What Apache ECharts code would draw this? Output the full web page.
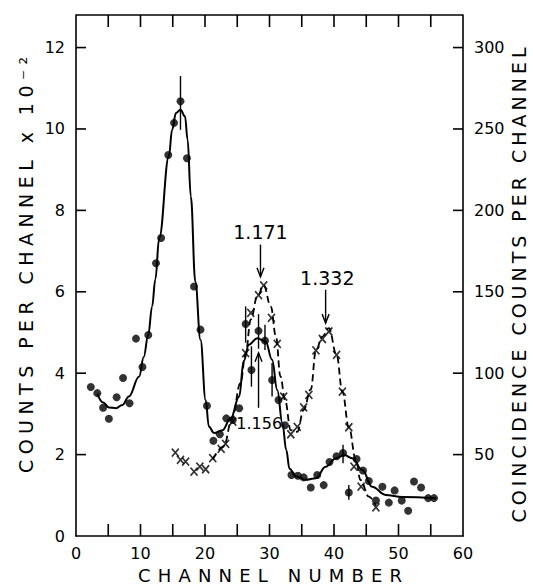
<!DOCTYPE html>
<html><head><meta charset="utf-8">
<script src="https://cdn.jsdelivr.net/npm/echarts@6/dist/echarts.min.js"></script>
<style>html,body{margin:0;padding:0;background:#fff}#c{width:533px;height:587px}</style>
</head><body><div id="c"></div>
<script>
// ---- data ----
const dotChannels = [2.3,3.3,4.2,5.1,6.3,7.3,8.3,9.3,10.3,11.2,12.4,13.2,14.3,15.2,16.2,17.2,18.3,19.3,20.3,21.3,22.3,23.3,24.3,25.3,26.3,27.2,28.3,29.3,30.4,31.4,32.4,33.4,34.4,35.3,36.4,37.4,38.4,39.3,40.4,41.4,42.3,43.5,44.5,45.4,46.5,47.5,48.5,49.4,50.5,51.5,52.4,53.5,54.6,55.5];
const dotCounts   = [3.66,3.51,3.15,2.88,3.41,3.88,3.26,4.85,4.15,4.94,6.70,7.32,9.36,10.15,10.68,9.28,6.13,5.07,3.20,2.34,2.50,2.89,2.85,3.14,5.21,4.08,5.04,4.80,3.83,3.34,2.72,1.50,1.48,1.44,1.19,1.50,1.25,1.82,1.96,2.04,1.07,1.89,1.61,1.35,0.87,1.21,0.82,1.12,0.87,0.62,1.34,1.19,0.93,0.93];

const crossChannels = [15.4,16.2,17.0,18.3,19.2,20.1,21.2,22.5,23.2,24.3,26.3,27.1,28.3,29.1,30.3,31.2,32.2,33.3,34.3,35.3,36.1,37.2,38.2,39.2,40.4,41.3,42.3,43.1,44.2,46.5];
const crossCounts   = [51.2,46.7,45.7,39.5,42.6,41.0,47.8,53.5,56.6,70.3,112.3,137,148,154,134,118,85.6,62.5,67,79,86.7,114,121,125.6,111.3,88.7,66.8,42.6,30.3,17.6];

const fitChannels = [3.3,4.2,5.1,6.2,7.2,8.2,9.8,10.5,11.2,11.8,12.3,12.9,14.4,14.9,15.5,16.2,16.9,17.3,17.8,18.5,19.3,20.1,20.6,21.4,22.7,24.0,25.3,26.0,26.8,28.1,29.4,30.4,31.2,32.0,32.6,33.1,34.1,35.6,37.2,38.7,40.3,41.6,42.8,44.4,45.9,48.0,50.6,55.8];
const fitCounts   = [3.50,3.28,3.16,3.14,3.22,3.43,3.92,4.40,4.94,5.64,6.30,7.32,9.33,9.98,10.39,10.47,10.31,9.74,8.34,6.25,4.82,3.34,2.69,2.53,2.60,2.90,3.43,4.30,4.70,4.86,4.78,4.33,3.59,2.77,2.11,1.65,1.46,1.38,1.42,1.70,1.91,1.99,1.91,1.62,1.21,1.01,0.96,0.93];

const dashChannels = [21.2,22.9,24.2,25.5,26.3,27.1,28.1,29.1,30.2,31.0,31.7,32.4,33.3,34.3,35.3,36.4,37.2,38.2,39.2,40.4,41.3,42.3,43.4,44.1,45.4,46.5];
const dashCounts   = [47,55,72,94,112,133,147,154,141,122.5,98,83.6,65,64,77.5,90,114,122.5,127.7,111.3,88.7,66.8,46.7,34.4,24.2,18.6];

const errChannels = [16.2,26.3,27.2,28.3,29.3,30.4,41.4,42.3];
const errLow      = [9.98,4.75,3.67,4.60,4.57,3.43,1.79,0.89];
const errHigh     = [11.30,5.64,4.66,5.45,5.19,4.25,2.24,1.25];

const peakLabels = ['1.171','1.332','1.156'];
const peakLabelX = [28.6,38.96,28.4];
const peakLabelY = [7.48,6.34,2.77];
const arrowX     = [28.6,38.7,28.3];
const arrowTail  = [7.16,6.05,3.15];
const arrowTip   = [6.37,5.23,4.50];

const xMax = 60, leftMax = 12.8, rightMax = 320;
const xLabelValues = [0,10,20,30,40,50,60];
const xTickValues  = [5,10,15,20,25,30,35,40,45,50,55];
const leftLabelValues = [0,2,4,6,8,10,12];
const leftTickValues  = [2,4,6,8,10,12];
const rightValues = [50,100,150,200,250,300];

const xTitle = 'CHANNEL NUMBER';
const leftTitle = 'COUNTS PER CHANNEL x 10\u207B\u00B2';
const rightTitle = 'COINCIDENCE COUNTS PER CHANNEL';

// ---- chart ----
const FONT = 'DejaVu Sans';
const zip = (a, b) => a.map((v, i) => [v, b[i]]);
const only = list => v => (list.indexOf(v) >= 0 ? String(v) : '');
const ls = () => ({color: '#000', width: 1.6});
const lbl = () => ({color: '#000', fontFamily: FONT, fontSize: 16});
const frameStyle = {stroke: '#000', lineWidth: 1.6};
const chart = echarts.init(document.getElementById('c'), null, {renderer: 'svg'});

chart.setOption({
  animation: false,
  backgroundColor: '#fff',
  grid: {left: 76, right: 70, top: 15, bottom: 51},
  xAxis: [
    {type: 'value', min: 0, max: xMax, interval: 5, position: 'bottom',
     axisLine: {show: true, onZero: false, lineStyle: ls()},
     axisTick: {show: false},
     axisLabel: Object.assign({margin: 9, formatter: only(xLabelValues)}, lbl()),
     splitLine: {show: false}}
  ],
  yAxis: [
    {type: 'value', min: 0, max: leftMax, interval: 2, position: 'left',
     axisLine: {show: true, onZero: false, lineStyle: ls()},
     axisTick: {show: false},
     axisLabel: Object.assign({margin: 11, formatter: only(leftLabelValues)}, lbl()),
     splitLine: {show: false}},
    {type: 'value', min: 0, max: rightMax, interval: 50, position: 'right',
     axisLine: {show: true, onZero: false, lineStyle: ls()},
     axisTick: {show: false},
     axisLabel: Object.assign({margin: 11, formatter: only(rightValues)}, lbl()),
     splitLine: {show: false}}
  ],
  graphic: [
    {type: 'text', x: 270, y: 575, style: {text: xTitle, fontSize: 18, fontFamily: FONT, fill: '#000', align: 'center', verticalAlign: 'middle'}},
    {type: 'text', x: 26, y: 265, rotation: Math.PI / 2, style: {text: leftTitle, fontSize: 19, fontFamily: FONT, fill: '#000', align: 'center', verticalAlign: 'middle'}},
    {type: 'text', x: 519, y: 285, rotation: Math.PI / 2, style: {text: rightTitle, fontSize: 19, fontFamily: FONT, fill: '#000', align: 'center', verticalAlign: 'middle'}}
  ],
  series: [
    // frame: top edge line
    {type: 'custom', xAxisIndex: 0, yAxisIndex: 0, silent: true, data: [[0, leftMax]],
     renderItem: (params, api) => {
       const a = api.coord([0, leftMax]);
       const b = api.coord([xMax, leftMax]);
       return {type: 'line', shape: {x1: a[0], y1: a[1], x2: b[0], y2: b[1]}, style: frameStyle};
     }},
    // inward ticks on bottom and top edges
    {type: 'custom', xAxisIndex: 0, yAxisIndex: 0, silent: true,
     data: xTickValues.map(v => [v, 0]),
     renderItem: (params, api) => {
       const b = api.coord([api.value(0), 0]);
       const t = api.coord([api.value(0), leftMax]);
       return {type: 'group', children: [
         {type: 'line', shape: {x1: b[0], y1: b[1], x2: b[0], y2: b[1] - 12}, style: frameStyle},
         {type: 'line', shape: {x1: t[0], y1: t[1], x2: t[0], y2: t[1] + 12}, style: frameStyle}
       ]};
     }},
    // inward ticks on left edge
    {type: 'custom', xAxisIndex: 0, yAxisIndex: 0, silent: true,
     data: leftTickValues.map(v => [0, v]),
     renderItem: (params, api) => {
       const p = api.coord([0, api.value(1)]);
       return {type: 'line', shape: {x1: p[0], y1: p[1], x2: p[0] + 10, y2: p[1]}, style: frameStyle};
     }},
    // inward ticks on right edge
    {type: 'custom', xAxisIndex: 0, yAxisIndex: 1, silent: true,
     data: rightValues.map(v => [xMax, v]),
     renderItem: (params, api) => {
       const p = api.coord([xMax, api.value(1)]);
       return {type: 'line', shape: {x1: p[0], y1: p[1], x2: p[0] - 10, y2: p[1]}, style: frameStyle};
     }},
    {type: 'line', xAxisIndex: 0, yAxisIndex: 0, data: zip(fitChannels, fitCounts),
     smooth: 0.4, smoothMonotone: 'x', showSymbol: false, silent: true,
     lineStyle: {color: '#000', width: 2}},
    {type: 'line', xAxisIndex: 0, yAxisIndex: 1, data: zip(dashChannels, dashCounts),
     smooth: 0.4, smoothMonotone: 'x', showSymbol: false, silent: true,
     lineStyle: {color: '#000', width: 1.8, type: [7, 4]}},
    {type: 'scatter', xAxisIndex: 0, yAxisIndex: 0, data: zip(dotChannels, dotCounts),
     symbol: 'circle', symbolSize: 8, itemStyle: {color: '#000'}, silent: true},
    {type: 'scatter', xAxisIndex: 0, yAxisIndex: 1, data: zip(crossChannels, crossCounts),
     symbol: 'path://M0,0L10,12M10,0L0,12', symbolSize: [7, 8],
     itemStyle: {color: 'none', borderColor: '#000', borderWidth: 1.7}, silent: true},
    {type: 'custom', xAxisIndex: 0, yAxisIndex: 0, silent: true,
     data: errChannels.map((c, i) => [c, errLow[i], errHigh[i]]),
     renderItem: (params, api) => {
       const a = api.coord([api.value(0), api.value(1)]);
       const b = api.coord([api.value(0), api.value(2)]);
       return {type: 'line', shape: {x1: a[0], y1: a[1], x2: b[0], y2: b[1]}, style: {stroke: '#000', lineWidth: 1.4}};
     }},
    {type: 'custom', xAxisIndex: 0, yAxisIndex: 0, silent: true,
     data: arrowX.map((c, i) => [c, arrowTail[i], arrowTip[i]]),
     renderItem: (params, api) => {
       const a = api.coord([api.value(0), api.value(1)]);
       const b = api.coord([api.value(0), api.value(2)]);
       const dir = b[1] > a[1] ? 1 : -1;
       return {type: 'group', children: [
         {type: 'line', shape: {x1: a[0], y1: a[1], x2: b[0], y2: b[1]}, style: {stroke: '#000', lineWidth: 1.4}},
         {type: 'polyline', shape: {points: [[b[0] - 3.5, b[1] - dir * 9], [b[0], b[1]], [b[0] + 3.5, b[1] - dir * 9]]}, style: {stroke: '#000', lineWidth: 1.4, fill: null}}
       ]};
     }},
    {type: 'custom', xAxisIndex: 0, yAxisIndex: 0, silent: true,
     data: peakLabelX.map((c, i) => [c, peakLabelY[i]]),
     renderItem: (params, api) => {
       const p = api.coord([api.value(0), api.value(1)]);
       const i = params.dataIndex;
       return {type: 'text', x: p[0], y: p[1], style: {text: peakLabels[i], fontSize: i === 2 ? 16 : 19, fontFamily: FONT, fill: '#000', align: 'center', verticalAlign: 'middle'}};
     }}
  ]
});

// spread the letters of the axis titles as in the original lettering
const spreads = [[xTitle, 264], [leftTitle, 416], [rightTitle, 475]];
function spreadTitles() {
  const texts = document.querySelectorAll('#c svg text');
  texts.forEach(t => {
    const s = spreads.find(p => p[0] === t.textContent);
    if (!s) return;
    t.style.letterSpacing = '0px';
    t.removeAttribute('dx');
    const len = t.getComputedTextLength();
    const n = t.textContent.length;
    const sp = Math.max(0, (s[1] - len) / (n - 1));
    t.style.letterSpacing = sp + 'px';
    t.setAttribute('dx', (sp / 2).toFixed(2));
  });
}
chart.on('finished', spreadTitles);
setTimeout(spreadTitles, 50);
setTimeout(spreadTitles, 300);
</script>
</body></html>
